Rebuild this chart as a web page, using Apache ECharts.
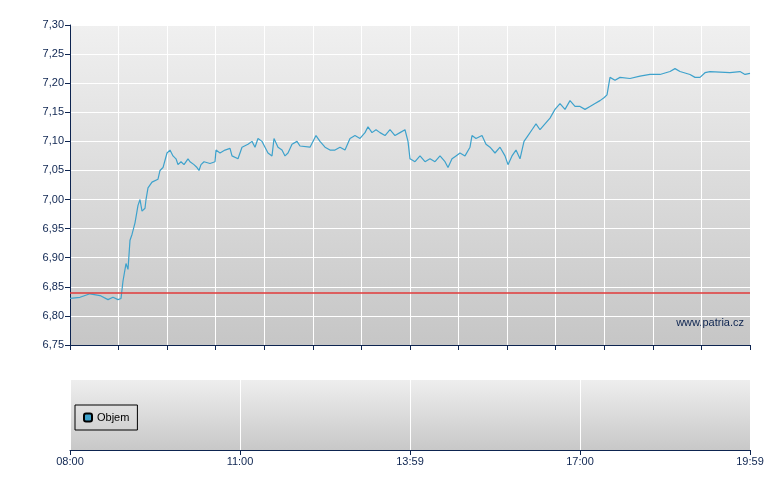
<!DOCTYPE html>
<html><head><meta charset="utf-8">
<script src="https://cdn.jsdelivr.net/npm/echarts@6/dist/echarts.min.js"></script>
<style>html,body{margin:0;padding:0;background:#fff}#c{width:780px;height:490px}</style>
</head><body><div id="c"></div>
<script>
// time index: 0..680 spans 08:00..19:59
var timeIdx = [0,10,20,30,38,43,48,51,53,56,58,60,62,65,68,70,72,75,76,78,82,88,90,93,97,100,103,106,108,111,114,118,120,124,127,129,131,134,140,145,146,150,155,160,162,168,172,178,182,185,188,192,195,198,202,204,208,212,215,218,222,227,230,240,246,250,255,260,265,270,275,280,285,290,295,298,302,306,310,315,320,325,330,335,338,340,345,350,355,360,365,370,375,378,382,386,390,395,400,402,406,412,416,420,425,430,435,438,442,446,450,454,458,462,466,470,475,480,485,490,495,500,505,510,515,520,525,530,534,537,540,545,550,560,570,580,590,600,605,610,620,625,630,635,640,660,670,675,680];
var price = [6.830,6.832,6.838,6.835,6.828,6.832,6.828,6.830,6.860,6.890,6.880,6.930,6.940,6.960,6.990,7.000,6.980,6.985,7.000,7.020,7.030,7.035,7.050,7.055,7.080,7.085,7.075,7.070,7.060,7.065,7.060,7.070,7.065,7.060,7.055,7.050,7.060,7.065,7.062,7.065,7.085,7.080,7.085,7.088,7.075,7.070,7.090,7.095,7.100,7.090,7.105,7.100,7.090,7.080,7.075,7.105,7.090,7.085,7.075,7.080,7.095,7.100,7.092,7.090,7.110,7.100,7.090,7.085,7.085,7.090,7.085,7.105,7.110,7.105,7.115,7.125,7.115,7.120,7.115,7.110,7.120,7.110,7.115,7.120,7.100,7.070,7.065,7.075,7.065,7.070,7.065,7.075,7.065,7.055,7.070,7.075,7.080,7.075,7.090,7.110,7.105,7.110,7.095,7.090,7.080,7.090,7.075,7.060,7.075,7.085,7.070,7.100,7.110,7.120,7.130,7.120,7.130,7.140,7.155,7.165,7.155,7.170,7.160,7.160,7.155,7.160,7.165,7.170,7.175,7.180,7.210,7.205,7.210,7.208,7.212,7.215,7.215,7.220,7.225,7.220,7.215,7.210,7.210,7.218,7.220,7.218,7.220,7.215,7.217,7.215];
var refLevel = 6.845;
var bottomTickLabels = ['08:00','11:00','13:59','17:00','19:59'];

var navy = '#0d2450';
function grad(a,b){return new echarts.graphic.LinearGradient(0,0,0,1,[{offset:0,color:a},{offset:1,color:b}]);}
var chart = echarts.init(document.getElementById('c'));
chart.setOption({
  animation:false,
  grid:[
    {left:70,right:30,top:25,height:320,show:true,borderWidth:0,backgroundColor:grad('#f0f0f0','#c6c6c6')},
    {left:70,right:30,top:380,height:70,show:true,borderWidth:0,backgroundColor:grad('#eeeeee','#c8c8c8')}
  ],
  legend:{data:['Objem'],left:75,top:405,orient:'vertical',padding:[7,8,7,8],itemWidth:8,itemHeight:8,itemGap:4,
    borderColor:'#000',borderWidth:1,backgroundColor:'rgba(255,255,255,0)',
    textStyle:{fontFamily:'Arial, Liberation Sans',fontSize:11,color:'#000'}},
  xAxis:[
    {type:'value',gridIndex:0,min:0,max:680,interval:680/14,
     axisLine:{lineStyle:{color:navy}},axisTick:{show:true,length:5,lineStyle:{color:navy}},
     axisLabel:{show:false},splitLine:{lineStyle:{color:'#fff',width:1}}},
    {type:'value',gridIndex:1,min:0,max:680,interval:170,
     axisLine:{lineStyle:{color:navy}},axisTick:{length:5,lineStyle:{color:navy}},
     axisLabel:{color:navy,fontFamily:'Arial, Liberation Sans',fontSize:11,margin:6,
       formatter:function(v){return bottomTickLabels[Math.round(v/170)];}},
     splitLine:{lineStyle:{color:'#fff',width:1}}}
  ],
  yAxis:[
    {type:'value',gridIndex:0,min:6.75,max:7.30,interval:0.05,
     axisLine:{show:true,lineStyle:{color:navy}},axisTick:{show:true,length:5,lineStyle:{color:navy}},
     axisLabel:{color:navy,fontFamily:'Arial, Liberation Sans',fontSize:11,margin:6,
       formatter:function(v){return v.toFixed(2).replace('.',',');}},
     splitLine:{lineStyle:{color:'#fff',width:1}}},
    {type:'value',gridIndex:1,min:0,max:1,axisLine:{show:false},axisTick:{show:false},axisLabel:{show:false},splitLine:{show:false}}
  ],
  graphic:[{type:'text',right:36,top:317,style:{text:'www.patria.cz',fill:navy,font:'11px Arial, Liberation Sans'}}],
  series:[
    {type:'line',xAxisIndex:0,yAxisIndex:0,data:timeIdx.map(function(t,i){return [t,price[i]];}),
     showSymbol:false,lineStyle:{color:'#3ea2cc',width:1.2},
     markLine:{silent:true,symbol:'none',label:{show:false},lineStyle:{color:'#e03a3a',type:'solid',width:1.5},data:[{yAxis:refLevel}]}},
    {type:'bar',name:'Objem',xAxisIndex:1,yAxisIndex:1,data:[],itemStyle:{color:'#3ea2cc',borderColor:'#000',borderWidth:1}}
  ]
});
</script></body></html>
